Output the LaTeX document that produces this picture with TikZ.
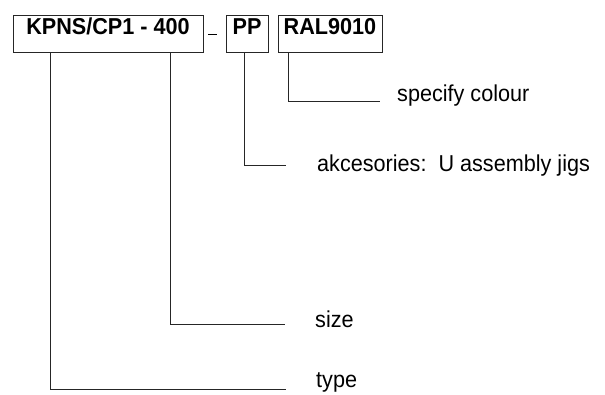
\documentclass[tikz,border=0pt]{standalone}
\usepackage{fontspec}
\setmainfont[FakeStretch=0.94]{Liberation Sans}
\usetikzlibrary{calc}
\begin{document}
\begin{tikzpicture}[x=1pt,y=-1pt,
  codebox/.style={draw=black!85, line width=0.9pt, rectangle, inner xsep=0pt, inner ysep=0pt,
    font=\fontsize{23}{26}\selectfont\bfseries, text height=19pt, text depth=18pt, minimum height=37pt},
  lbl/.style={anchor=base west, inner sep=0pt, font=\fontsize{23}{26}\selectfont},
  lead/.style={draw=black!85, line width=0.8pt}]
\useasboundingbox (0,0) rectangle (605,394);
\fill[white] (0,0) rectangle (605,394);
% code boxes
\node[codebox, minimum width=190pt] (k1) at (108,33.5) {KPNS/CP1 - 400};
\node[anchor=base, inner sep=0pt] (us) at (212.5,35.3) {\rule{8.5pt}{1.8pt}};
\node[codebox, minimum width=42pt] (pp) at (247,33.5) {PP};
\node[codebox, minimum width=104pt] (ral) at (330,33.5) {RAL9010};
% labels
\node[lbl] (col) at (397,101) {specify colour};
\node[lbl] (acc) at (317,171) {akcesories:\ \ U assembly jigs};
\node[lbl] (size) at (315,327) {size};
\node[lbl] (type) at (316,387) {type};
% leaders
\draw[lead] ($(ral.south west)+(11,0)$) |- ($(col.base west)+(-17,0)$);
\draw[lead] ($(pp.south west)+(19,0)$) |- ($(acc.base west)+(-31,-6)$);
\draw[lead] ($(k1.south west)+(158,0)$) |- ($(size.base west)+(-30,-3)$);
\draw[lead] ($(k1.south west)+(38,0)$) |- ($(type.base west)+(-30,2)$);
\end{tikzpicture}
\end{document}
